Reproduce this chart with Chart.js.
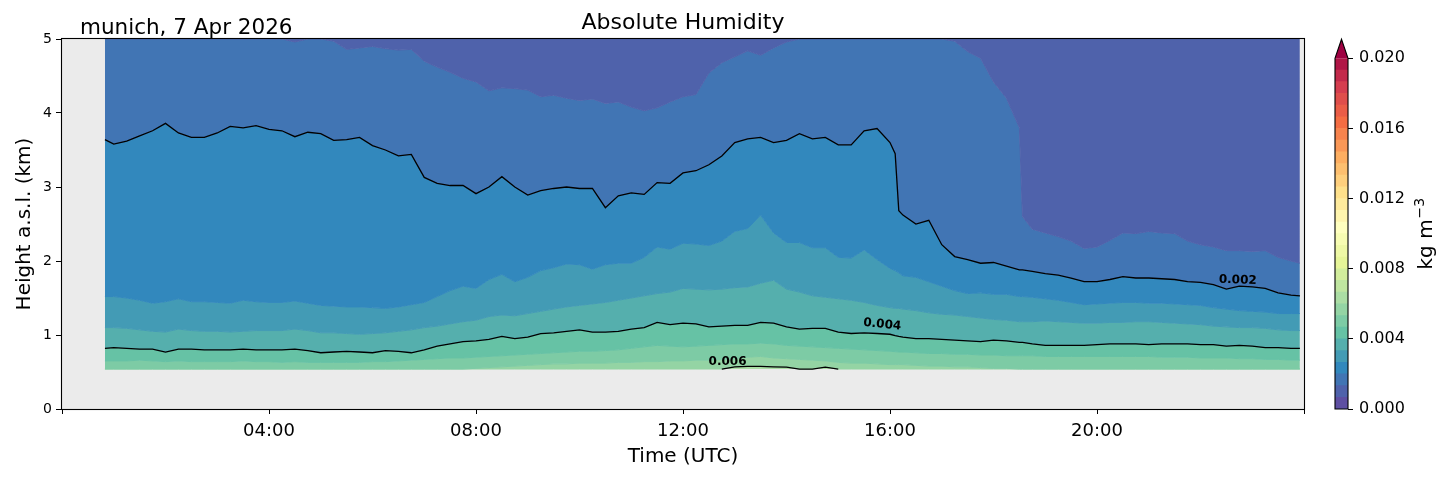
<!DOCTYPE html>
<html>
<head>
<meta charset="utf-8">
<title>Absolute Humidity</title>
<script src="https://cdn.jsdelivr.net/npm/chart.js@4/dist/chart.umd.min.js"></script>
<style>
    body { margin: 0; background: #ffffff; }
    .ChartWrap { position: relative; width: 1454px; height: 478px; }
    .ChartWrap canvas { position: absolute; top: 0; }
</style>
</head>
<body>
<div class="ChartWrap">
    <canvas id="ChartHumidity" width="1454" height="478" style="left:0"></canvas>
    <canvas id="ChartColorbar" width="154" height="478" style="left:1300px"></canvas>
</div>
<script>
var siteLabel = "munich, 7 Apr 2026";

// profile times in hours UTC, retrieval runs from 00:50 to 23:55,
// with a few extra profiles around the two sharp drops
var extraHours = [16.1, 16.17, 18.56];
var hours = [0.83];
for (var h = 1; h <= 23.75; h += 0.25) { hours.push(h); }
hours.push(23.92);
hours = hours.concat(extraHours).sort(function (a, b) { return a - b; });

var heightTop = 5;       // km
var heightBottom = 0.54; // lowest retrieved level, km

// height (km) where the humidity crosses each filled level (kg m-3)
var iso00133 = [5, 5, 5, 5, 5, 5, 5, 5, 5, 5,
    5, 5, 5, 5, 5, 4.96, 5, 5, 4.97, 4.86,
    4.88, 4.90, 4.87, 4.85, 4.86, 4.70, 4.62, 4.55, 4.47, 4.42,
    4.30, 4.34, 4.33, 4.31, 4.22, 4.24, 4.20, 4.17, 4.19, 4.13,
    4.15, 4.08, 4.03, 4.07, 4.15, 4.22, 4.25, 4.54, 4.68, 4.76,
    4.84, 4.78, 4.88, 4.96, 5, 5, 5, 5, 5, 5,
    5, 5, 5, 5, 5, 5, 5, 5, 4.97, 4.83, 4.74, 4.42,
    4.20, 3.80, 2.60, 2.43, 2.38, 2.33, 2.27, 2.17, 2.19, 2.28, 2.38,
    2.37, 2.40, 2.38, 2.37, 2.27, 2.22, 2.19, 2.14, 2.14, 2.13,
    2.14, 2.05, 2.00, 1.97];

var iso00200 = [3.64, 3.58, 3.62, 3.69, 3.76, 3.86, 3.73, 3.67, 3.67, 3.73,
    3.82, 3.80, 3.83, 3.78, 3.76, 3.68, 3.74, 3.72, 3.63, 3.64,
    3.67, 3.56, 3.50, 3.42, 3.44, 3.13, 3.05, 3.02, 3.02, 2.91,
    3.00, 3.14, 3.00, 2.89, 2.95, 2.98, 3.00, 2.98, 2.98, 2.72,
    2.88, 2.92, 2.90, 3.06, 3.05, 3.19, 3.22, 3.30, 3.42, 3.60,
    3.65, 3.67, 3.60, 3.63, 3.72, 3.65, 3.67, 3.57, 3.57, 3.76,
    3.79, 3.60, 3.45, 2.68, 2.62, 2.50, 2.55, 2.22, 2.06, 2.02, 1.97, 1.98,
    1.93, 1.88, 1.88, 1.86, 1.83, 1.81, 1.77, 1.72, 1.72, 1.75, 1.79,
    1.77, 1.77, 1.76, 1.75, 1.72, 1.71, 1.68, 1.62, 1.66, 1.65,
    1.63, 1.57, 1.54, 1.53];

var iso00267 = [1.52, 1.52, 1.50, 1.47, 1.43, 1.45, 1.49, 1.45, 1.45, 1.44,
    1.43, 1.47, 1.45, 1.44, 1.44, 1.46, 1.43, 1.40, 1.39, 1.38,
    1.38, 1.37, 1.36, 1.38, 1.41, 1.44, 1.52, 1.60, 1.66, 1.63,
    1.75, 1.82, 1.72, 1.78, 1.87, 1.91, 1.96, 1.95, 1.89, 1.95,
    1.97, 1.97, 2.05, 2.19, 2.16, 2.24, 2.23, 2.21, 2.27, 2.40,
    2.44, 2.62, 2.38, 2.25, 2.25, 2.18, 2.18, 2.05, 2.04, 2.15,
    2.02, 1.90, 1.87, 1.84, 1.80, 1.78, 1.72, 1.66, 1.60, 1.56, 1.57, 1.55,
    1.55, 1.52, 1.52, 1.51, 1.49, 1.47, 1.44, 1.41, 1.42, 1.43, 1.44,
    1.44, 1.43, 1.43, 1.42, 1.41, 1.40, 1.37, 1.35, 1.33, 1.32,
    1.31, 1.29, 1.29, 1.29];

var iso00333 = [1.10, 1.10, 1.09, 1.07, 1.05, 1.04, 1.08, 1.06, 1.05, 1.05,
    1.04, 1.05, 1.06, 1.06, 1.06, 1.08, 1.06, 1.03, 1.03, 1.02,
    1.01, 1.02, 1.03, 1.05, 1.07, 1.10, 1.12, 1.15, 1.18, 1.20,
    1.25, 1.27, 1.26, 1.29, 1.32, 1.35, 1.38, 1.40, 1.42, 1.44,
    1.47, 1.50, 1.53, 1.56, 1.58, 1.63, 1.62, 1.61, 1.62, 1.64,
    1.65, 1.70, 1.74, 1.62, 1.58, 1.53, 1.51, 1.49, 1.47, 1.44,
    1.40, 1.37, 1.36, 1.36, 1.35, 1.33, 1.30, 1.28, 1.27, 1.25, 1.23, 1.21,
    1.20, 1.18, 1.18, 1.18, 1.19, 1.18, 1.17, 1.16, 1.16, 1.17, 1.17,
    1.18, 1.18, 1.17, 1.16, 1.15, 1.14, 1.12, 1.11, 1.10, 1.10,
    1.09, 1.07, 1.06, 1.06];

var iso00400 = [0.82, 0.83, 0.82, 0.81, 0.81, 0.77, 0.81, 0.81, 0.80, 0.80,
    0.80, 0.81, 0.80, 0.80, 0.80, 0.81, 0.79, 0.76, 0.77, 0.78,
    0.77, 0.76, 0.79, 0.78, 0.76, 0.80, 0.85, 0.88, 0.91, 0.92,
    0.94, 0.98, 0.95, 0.97, 1.02, 1.03, 1.05, 1.07, 1.04, 1.04,
    1.05, 1.08, 1.10, 1.17, 1.14, 1.16, 1.15, 1.11, 1.12, 1.13,
    1.13, 1.17, 1.16, 1.11, 1.08, 1.09, 1.09, 1.04, 1.02, 1.03,
    1.02, 1.01, 0.99, 0.98, 0.97, 0.95, 0.95, 0.94, 0.93, 0.92, 0.91, 0.93,
    0.92, 0.90, 0.90, 0.88, 0.86, 0.86, 0.86, 0.86, 0.87, 0.88, 0.88,
    0.88, 0.87, 0.88, 0.88, 0.88, 0.87, 0.87, 0.85, 0.86, 0.85,
    0.83, 0.83, 0.82, 0.82];

var iso00467 = [0.65, 0.65, 0.65, 0.66, 0.65, 0.64, 0.65, 0.64, 0.64, 0.64,
    0.64, 0.65, 0.64, 0.64, 0.63, 0.64, 0.63, 0.63, 0.63, 0.63,
    0.63, 0.64, 0.64, 0.65, 0.66, 0.67, 0.68, 0.69, 0.69, 0.70,
    0.71, 0.72, 0.73, 0.74, 0.75, 0.76, 0.77, 0.78, 0.78, 0.79,
    0.80, 0.82, 0.84, 0.86, 0.85, 0.84, 0.85, 0.86, 0.87, 0.88,
    0.88, 0.89, 0.88, 0.86, 0.85, 0.84, 0.83, 0.82, 0.81, 0.80,
    0.79, 0.78, 0.775, 0.77, 0.77, 0.76, 0.75, 0.75, 0.74, 0.74, 0.73, 0.73,
    0.72, 0.72, 0.72, 0.72, 0.71, 0.71, 0.71, 0.71, 0.71, 0.71, 0.71,
    0.71, 0.71, 0.70, 0.70, 0.70, 0.69, 0.69, 0.69, 0.68, 0.68,
    0.67, 0.67, 0.66, 0.66];

var iso00533 = [0.54, 0.54, 0.54, 0.54, 0.54, 0.54, 0.54, 0.54, 0.54, 0.54,
    0.54, 0.54, 0.54, 0.54, 0.54, 0.54, 0.54, 0.54, 0.54, 0.54,
    0.54, 0.54, 0.54, 0.54, 0.54, 0.54, 0.54, 0.54, 0.54, 0.55,
    0.56, 0.57, 0.58, 0.59, 0.60, 0.61, 0.61, 0.62, 0.62, 0.62,
    0.63, 0.63, 0.64, 0.64, 0.65, 0.65, 0.66, 0.66, 0.67, 0.68,
    0.70, 0.71, 0.69, 0.68, 0.67, 0.66, 0.65, 0.63, 0.62, 0.62,
    0.61, 0.60, 0.60, 0.60, 0.60, 0.59, 0.58, 0.58, 0.57, 0.57, 0.56, 0.55,
    0.55, 0.54, 0.54, 0.54, 0.54, 0.54, 0.54, 0.54, 0.54, 0.54, 0.54,
    0.54, 0.54, 0.54, 0.54, 0.54, 0.54, 0.54, 0.54, 0.54, 0.54,
    0.54, 0.54, 0.54, 0.54];

var iso00600 = [0.54, 0.54, 0.54, 0.54, 0.54, 0.54, 0.54, 0.54, 0.54, 0.54,
    0.54, 0.54, 0.54, 0.54, 0.54, 0.54, 0.54, 0.54, 0.54, 0.54,
    0.54, 0.54, 0.54, 0.54, 0.54, 0.54, 0.54, 0.54, 0.54, 0.54,
    0.54, 0.54, 0.54, 0.54, 0.54, 0.54, 0.54, 0.54, 0.54, 0.54,
    0.54, 0.54, 0.54, 0.54, 0.54, 0.54, 0.54, 0.54, 0.54, 0.57,
    0.575, 0.575, 0.57, 0.565, 0.54, 0.54, 0.565, 0.54, 0.54, 0.54,
    0.54, 0.54, 0.54, 0.54, 0.54, 0.54, 0.54, 0.54, 0.54, 0.54, 0.54, 0.54,
    0.54, 0.54, 0.54, 0.54, 0.54, 0.54, 0.54, 0.54, 0.54, 0.54, 0.54,
    0.54, 0.54, 0.54, 0.54, 0.54, 0.54, 0.54, 0.54, 0.54, 0.54,
    0.54, 0.54, 0.54, 0.54];

var timeTicks = [0, 4, 8, 12, 16, 20, 24];
var heightTicks = [0, 1, 2, 3, 4, 5];
var colorbarTicks = [0, 0.004, 0.008, 0.012, 0.016, 0.020];

var contourLabels = [
    { text: "0.002", hour: 22.72, km: 1.74, angle: 2 },
    { text: "0.004", hour: 15.85, km: 1.14, angle: 6 },
    { text: "0.006", hour: 12.86, km: 0.64, angle: 0 }
];

// 30 filled levels between 0 and 0.02, colours from Spectral_r
var levels = [];
for (var i = 0; i <= 30; i++) { levels.push(0.02 * i / 30); }

var spectralR = ["#5e4fa2", "#3288bd", "#66c2a5", "#abdda4", "#e6f598", "#ffffbf",
    "#fee08b", "#fdae61", "#f46d43", "#d53e4f", "#9e0142"];

Chart.defaults.font.family = "'DejaVu Sans', sans-serif";
Chart.defaults.color = "#000";

function HexToRgb(hex) {
    return [parseInt(hex.substr(1, 2), 16), parseInt(hex.substr(3, 2), 16), parseInt(hex.substr(5, 2), 16)];
}

function Spectral(t) {
    var p = Math.max(0, Math.min(1, t)) * 10;
    var i = Math.min(Math.floor(p), 9);
    var f = p - i;
    var a = HexToRgb(spectralR[i]);
    var b = HexToRgb(spectralR[i + 1]);
    return "rgb(" + Math.round(a[0] + (b[0] - a[0]) * f) + "," +
        Math.round(a[1] + (b[1] - a[1]) * f) + "," +
        Math.round(a[2] + (b[2] - a[2]) * f) + ")";
}

function BandColor(k) {
    return Spectral(k / (levels.length - 1));
}

function Points(values) {
    var pts = [];
    for (var i = 0; i < hours.length; i++) {
        pts.push({ x: hours[i], y: values[i] });
    }
    return pts;
}

function Band(values, k, stroke) {
    return {
        data: Points(values),
        fill: "-1",
        backgroundColor: BandColor(k),
        borderColor: stroke ? BandColor(k) : "rgba(0,0,0,0)",
        borderWidth: 1,
        pointRadius: 0,
        tension: 0
    };
}

function Contour(values) {
    return {
        data: Points(values),
        fill: false,
        borderColor: "#000",
        borderWidth: 1.3,
        pointRadius: 0,
        tension: 0,
        spanGaps: false,
        order: -1
    };
}

function FormatHour(value) {
    if (value <= 0 || value >= 24) return "";
    return (value < 10 ? "0" : "") + value + ":00";
}

var topEdge = hours.map(function () { return heightTop; });
var bottomEdge = hours.map(function () { return heightBottom; });

// the 0.006 contour only exists where it rises above the lowest level
var line00600 = iso00600.map(function (v, i) {
    var near = v > heightBottom || iso00600[i - 1] > heightBottom || iso00600[i + 1] > heightBottom;
    return near ? v : null;
});

var plotBackground = {
    id: "plotBackground",
    beforeDraw: function (chart) {
        var a = chart.chartArea;
        var ctx = chart.ctx;
        ctx.save();
        ctx.fillStyle = "#ebebeb";
        ctx.fillRect(a.left, a.top, a.right - a.left, a.bottom - a.top);
        ctx.restore();
    }
};

var plotDecor = {
    id: "plotDecor",
    afterDatasetsDraw: function (chart) {
        var a = chart.chartArea;
        var ctx = chart.ctx;
        var xs = chart.scales.x;
        var ys = chart.scales.y;
        ctx.save();
        ctx.fillStyle = "#000";
        ctx.font = "bold 12px 'DejaVu Sans'";
        ctx.textAlign = "center";
        ctx.textBaseline = "middle";
        contourLabels.forEach(function (l) {
            ctx.save();
            ctx.translate(xs.getPixelForValue(l.hour), ys.getPixelForValue(l.km));
            ctx.rotate(l.angle * Math.PI / 180);
            ctx.fillText(l.text, 0, 0);
            ctx.restore();
        });

        ctx.strokeStyle = "#000";
        ctx.lineWidth = 1.1;
        ctx.strokeRect(a.left - 0.5, a.top - 0.5, a.right - a.left + 1, a.bottom - a.top + 1);

        ctx.font = "21.5px 'DejaVu Sans'";
        ctx.textAlign = "left";
        ctx.textBaseline = "alphabetic";
        ctx.fillText(siteLabel, a.left + 18, a.top - 5);
        ctx.restore();
    }
};

new Chart(document.getElementById("ChartHumidity"), {
    type: "line",
    data: {
        datasets: [
            { data: Points(topEdge), fill: false, borderColor: "rgba(0,0,0,0)", borderWidth: 0, pointRadius: 0 },
            Band(iso00133, 1, true),
            Band(iso00200, 2, true),
            Band(iso00267, 3, true),
            Band(iso00333, 4, true),
            Band(iso00400, 5, true),
            Band(iso00467, 6, true),
            Band(iso00533, 7, true),
            Band(iso00600, 8, true),
            Band(bottomEdge, 9, false),
            Contour(iso00200),
            Contour(iso00400),
            Contour(line00600)
        ]
    },
    options: {
        responsive: false,
        animation: false,
        events: [],
        layout: { padding: { left: 0, right: 150, top: 0, bottom: 0 } },
        plugins: {
            legend: { display: false },
            tooltip: { enabled: false },
            title: {
                display: true,
                text: "Absolute Humidity",
                fullSize: false,
                color: "#000",
                font: { size: 22, weight: "normal" },
                padding: { top: 10, bottom: 2.6 }
            }
        },
        scales: {
            x: {
                type: "linear",
                min: 0,
                max: 24,
                afterFit: function (s) { s.height = 69; },
                afterBuildTicks: function (s) { s.ticks = timeTicks.map(function (v) { return { value: v }; }); },
                grid: { drawOnChartArea: false, drawTicks: true, tickLength: 5, color: "#000" },
                border: { display: false },
                ticks: { font: { size: 18 }, padding: 6.5, maxRotation: 0, autoSkip: false, callback: FormatHour },
                title: { display: true, text: "Time (UTC)", font: { size: 20 }, padding: { top: 0, bottom: 9.6 } }
            },
            y: {
                min: 0,
                max: 5,
                afterFit: function (s) { s.width = 62; },
                afterBuildTicks: function (s) { s.ticks = heightTicks.map(function (v) { return { value: v }; }); },
                grid: { drawOnChartArea: false, drawTicks: true, tickLength: 6, color: "#000" },
                border: { display: false },
                ticks: { font: { size: 14 }, padding: 4 },
                title: { display: true, text: "Height a.s.l. (km)", font: { size: 20 }, padding: { top: 13, bottom: 0 } }
            }
        }
    },
    plugins: [plotBackground, plotDecor]
});

// colorbar: one bar per level, drawn largest first so the edges never leave a seam
var colorbarDatasets = [];
for (var k = 0; k < levels.length - 1; k++) {
    colorbarDatasets.push({
        data: [levels[k + 1]],
        backgroundColor: BandColor(k),
        borderWidth: 0,
        barPercentage: 1,
        categoryPercentage: 1,
        grouped: false
    });
}

var colorbarDecor = {
    id: "colorbarDecor",
    afterDatasetsDraw: function (chart) {
        var a = chart.chartArea;
        var ctx = chart.ctx;
        var mid = (a.left + a.right) / 2;
        var tip = a.top - 19;
        ctx.save();
        ctx.fillStyle = Spectral(1);
        ctx.beginPath();
        ctx.moveTo(a.left, a.top);
        ctx.lineTo(mid, tip);
        ctx.lineTo(a.right, a.top);
        ctx.closePath();
        ctx.fill();

        ctx.strokeStyle = "#000";
        ctx.lineWidth = 1.1;
        ctx.beginPath();
        ctx.moveTo(a.left, a.bottom);
        ctx.lineTo(a.left, a.top);
        ctx.lineTo(mid, tip);
        ctx.lineTo(a.right, a.top);
        ctx.lineTo(a.right, a.bottom);
        ctx.closePath();
        ctx.stroke();

        ctx.fillStyle = "#000";
        ctx.translate(132, 269.5);
        ctx.rotate(-Math.PI / 2);
        ctx.textAlign = "left";
        ctx.textBaseline = "alphabetic";
        ctx.font = "20px 'DejaVu Sans'";
        ctx.fillText("kg m", 0, 0);
        var w = ctx.measureText("kg m").width;
        ctx.font = "14px 'DejaVu Sans'";
        ctx.fillText("\u22123", w + 1, -8);
        ctx.restore();
    }
};

new Chart(document.getElementById("ChartColorbar"), {
    type: "bar",
    data: { labels: [""], datasets: colorbarDatasets },
    options: {
        responsive: false,
        animation: false,
        events: [],
        layout: { padding: { left: 35, right: 0, top: 58.3, bottom: 69 } },
        plugins: { legend: { display: false }, tooltip: { enabled: false } },
        scales: {
            x: { display: false },
            y: {
                position: "right",
                min: 0,
                max: 0.02,
                afterFit: function (s) { s.width = 106; },
                afterBuildTicks: function (s) { s.ticks = colorbarTicks.map(function (v) { return { value: v }; }); },
                grid: { drawOnChartArea: false, drawTicks: true, tickLength: 5, color: "#000" },
                border: { display: false },
                ticks: { font: { size: 16 }, padding: 6, callback: function (v) { return v.toFixed(3); } }
            }
        }
    },
    plugins: [colorbarDecor]
});
</script>
</body>
</html>
